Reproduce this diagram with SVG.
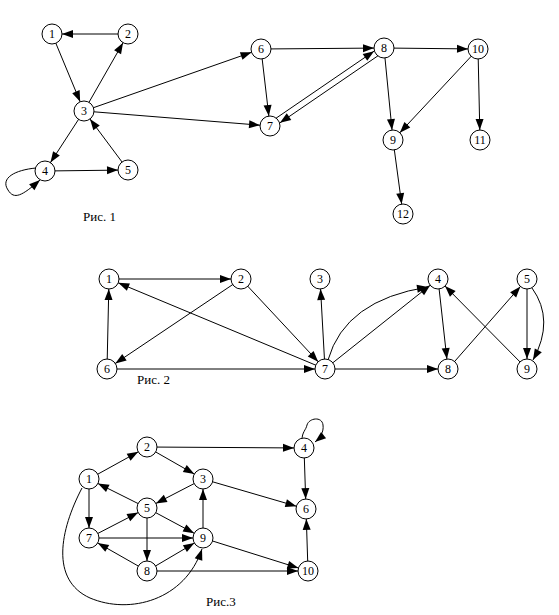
<svg xmlns="http://www.w3.org/2000/svg" width="559" height="615" viewBox="0 0 559 615">
<style>
.e{stroke:#000;stroke-width:1;fill:none}
.s{marker-end:url(#a)}
.c{marker-end:url(#b)}
.n circle{fill:#fff;stroke:#000;stroke-width:1}
text{font-family:"Liberation Serif","Times New Roman",serif;font-size:12px;fill:#000}
.n text{text-anchor:middle}
.lbl{font-size:13px}
</style>
<defs>
<marker id="a" markerWidth="11" markerHeight="8" refX="21" refY="4" orient="auto" markerUnits="userSpaceOnUse" overflow="visible"><path d="M0,0 L11,4 L0,8 z" fill="#000"/></marker>
<marker id="b" markerWidth="11" markerHeight="8" refX="11" refY="4" orient="auto" markerUnits="userSpaceOnUse" overflow="visible"><path d="M0,0 L11,4 L0,8 z" fill="#000"/></marker>
</defs>
<rect width="559" height="615" fill="#fff"/>
<g id="connectors">
<!-- Fig 1 -->
<line class="e s" x1="128" y1="34" x2="52" y2="34"/>
<line class="e s" x1="52" y1="34" x2="84" y2="111"/>
<line class="e s" x1="84" y1="111" x2="128" y2="34"/>
<line class="e s" x1="84" y1="111" x2="261" y2="49"/>
<line class="e s" x1="84" y1="111" x2="270" y2="126"/>
<line class="e s" x1="84" y1="111" x2="45" y2="171"/>
<line class="e s" x1="128" y1="170" x2="84" y2="111"/>
<line class="e s" x1="45" y1="171" x2="128" y2="170"/>
<path class="e c" d="M36,168 C15,170 0,178 8,190 C14,200 22,196 40,180"/>
<line class="e s" x1="261" y1="49" x2="384" y2="48"/>
<line class="e s" x1="261" y1="49" x2="270" y2="126"/>
<line class="e s" x1="268.3" y1="123.5" x2="382.3" y2="45.5"/>
<line class="e s" x1="385.7" y1="50.5" x2="271.7" y2="128.5"/>
<line class="e s" x1="384" y1="48" x2="478" y2="49"/>
<line class="e s" x1="384" y1="48" x2="393" y2="140"/>
<line class="e s" x1="478" y1="49" x2="393" y2="140"/>
<line class="e s" x1="478" y1="49" x2="480" y2="140"/>
<line class="e s" x1="393" y1="140" x2="403" y2="214"/>
<!-- Fig 2 -->
<line class="e s" x1="109" y1="279" x2="241" y2="279"/>
<line class="e s" x1="107" y1="369" x2="109" y2="279"/>
<line class="e s" x1="241" y1="279" x2="107" y2="369"/>
<line class="e s" x1="241" y1="279" x2="325" y2="369"/>
<line class="e s" x1="325" y1="369" x2="109" y2="279"/>
<line class="e s" x1="107" y1="369" x2="325" y2="369"/>
<line class="e s" x1="325" y1="369" x2="320" y2="279"/>
<line class="e s" x1="325" y1="369" x2="438" y2="279"/>
<path class="e c" d="M328,360 Q345,300 428,287"/>
<line class="e s" x1="325" y1="369" x2="448" y2="369"/>
<line class="e s" x1="438" y1="279" x2="448" y2="369"/>
<line class="e s" x1="448" y1="369" x2="527" y2="279"/>
<line class="e s" x1="527" y1="369" x2="438" y2="279"/>
<line class="e s" x1="527" y1="279" x2="527" y2="369"/>
<path class="e c" d="M532,288 Q555,320 533,360"/>
<!-- Fig 3 -->
<line class="e s" x1="89" y1="479" x2="147" y2="447"/>
<line class="e s" x1="147" y1="447" x2="203" y2="479"/>
<line class="e s" x1="147" y1="447" x2="304" y2="448"/>
<line class="e s" x1="89" y1="479" x2="89" y2="538"/>
<line class="e s" x1="147" y1="508" x2="89" y2="479"/>
<line class="e s" x1="203" y1="479" x2="147" y2="508"/>
<line class="e s" x1="147" y1="508" x2="203" y2="538"/>
<line class="e s" x1="147" y1="508" x2="147" y2="571"/>
<line class="e s" x1="89" y1="538" x2="147" y2="508"/>
<line class="e s" x1="89" y1="538" x2="203" y2="538"/>
<line class="e s" x1="203" y1="538" x2="203" y2="479"/>
<line class="e s" x1="147" y1="571" x2="89" y2="538"/>
<line class="e s" x1="147" y1="571" x2="203" y2="538"/>
<line class="e s" x1="147" y1="571" x2="308" y2="571"/>
<line class="e s" x1="203" y1="479" x2="306" y2="509"/>
<line class="e s" x1="203" y1="538" x2="308" y2="571"/>
<line class="e s" x1="304" y1="448" x2="306" y2="509"/>
<line class="e s" x1="308" y1="571" x2="306" y2="509"/>
<path class="e c" d="M82,488 C60,530 50,580 90,598 C130,615 185,600 202,549"/>
<path class="e c" d="M302,440 C302,432 306,430 307,425 C309,418 322,416 323,425 C324,432 320,438 315,442"/>
</g>
<g id="fig1-n1" class="n"><circle cx="52" cy="34" r="10"/><text x="52" y="38">1</text></g>
<g id="fig1-n2" class="n"><circle cx="128" cy="34" r="10"/><text x="128" y="38">2</text></g>
<g id="fig1-n3" class="n"><circle cx="84" cy="111" r="10"/><text x="84" y="115">3</text></g>
<g id="fig1-n4" class="n"><circle cx="45" cy="171" r="10"/><text x="45" y="175">4</text></g>
<g id="fig1-n5" class="n"><circle cx="128" cy="170" r="10"/><text x="128" y="174">5</text></g>
<g id="fig1-n6" class="n"><circle cx="261" cy="49" r="10"/><text x="261" y="53">6</text></g>
<g id="fig1-n7" class="n"><circle cx="270" cy="126" r="10"/><text x="270" y="130">7</text></g>
<g id="fig1-n8" class="n"><circle cx="384" cy="48" r="10"/><text x="384" y="52">8</text></g>
<g id="fig1-n9" class="n"><circle cx="393" cy="140" r="10"/><text x="393" y="144">9</text></g>
<g id="fig1-n10" class="n"><circle cx="478" cy="49" r="10"/><text x="478" y="53">10</text></g>
<g id="fig1-n11" class="n"><circle cx="480" cy="140" r="10"/><text x="480" y="144">11</text></g>
<g id="fig1-n12" class="n"><circle cx="403" cy="214" r="10"/><text x="403" y="218">12</text></g>
<text class="lbl" x="83" y="221">Рис. 1</text>
<g id="fig2-n1" class="n"><circle cx="109" cy="279" r="10"/><text x="109" y="283">1</text></g>
<g id="fig2-n2" class="n"><circle cx="241" cy="279" r="10"/><text x="241" y="283">2</text></g>
<g id="fig2-n3" class="n"><circle cx="320" cy="279" r="10"/><text x="320" y="283">3</text></g>
<g id="fig2-n4" class="n"><circle cx="438" cy="279" r="10"/><text x="438" y="283">4</text></g>
<g id="fig2-n5" class="n"><circle cx="527" cy="279" r="10"/><text x="527" y="283">5</text></g>
<g id="fig2-n6" class="n"><circle cx="107" cy="369" r="10"/><text x="107" y="373">6</text></g>
<g id="fig2-n7" class="n"><circle cx="325" cy="369" r="10"/><text x="325" y="373">7</text></g>
<g id="fig2-n8" class="n"><circle cx="448" cy="369" r="10"/><text x="448" y="373">8</text></g>
<g id="fig2-n9" class="n"><circle cx="527" cy="369" r="10"/><text x="527" y="373">9</text></g>
<text class="lbl" x="137" y="384">Рис. 2</text>
<g id="fig3-n1" class="n"><circle cx="89" cy="479" r="10"/><text x="89" y="483">1</text></g>
<g id="fig3-n2" class="n"><circle cx="147" cy="447" r="10"/><text x="147" y="451">2</text></g>
<g id="fig3-n3" class="n"><circle cx="203" cy="479" r="10"/><text x="203" y="483">3</text></g>
<g id="fig3-n4" class="n"><circle cx="304" cy="448" r="10"/><text x="304" y="452">4</text></g>
<g id="fig3-n5" class="n"><circle cx="147" cy="508" r="10"/><text x="147" y="512">5</text></g>
<g id="fig3-n6" class="n"><circle cx="306" cy="509" r="10"/><text x="306" y="513">6</text></g>
<g id="fig3-n7" class="n"><circle cx="89" cy="538" r="10"/><text x="89" y="542">7</text></g>
<g id="fig3-n8" class="n"><circle cx="147" cy="571" r="10"/><text x="147" y="575">8</text></g>
<g id="fig3-n9" class="n"><circle cx="203" cy="538" r="10"/><text x="203" y="542">9</text></g>
<g id="fig3-n10" class="n"><circle cx="308" cy="571" r="10"/><text x="308" y="575">10</text></g>
<text class="lbl" x="206" y="606">Рис.3</text>
</svg>
